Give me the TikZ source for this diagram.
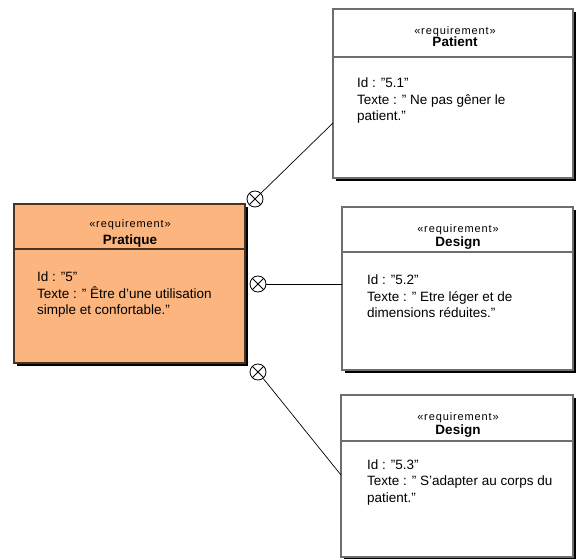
\documentclass[tikz,border=0pt]{standalone}
\usepackage{fontspec}
\setmainfont{Liberation Sans}
\newfontfamily\stereofont[LetterSpace=8]{Liberation Sans}
\usetikzlibrary{shadows}
\definecolor{reqorange}{HTML}{FCB57E}
\definecolor{reqbrown}{HTML}{4A3320}
\definecolor{reqgray}{HTML}{6E6E6E}
\begin{document}
\begin{tikzpicture}[x=1pt,y=-1pt,
  reqbox/.style={rectangle,inner sep=0,line width=1.1pt,
    drop shadow={shadow xshift=3pt,shadow yshift=-3pt,fill=black,opacity=1}},
  whitebox/.style={reqbox,draw=reqgray,fill=white},
  orangebox/.style={reqbox,draw=reqbrown,fill=reqorange},
  divider/.style={line width=1.4pt},
  stereo/.style={anchor=base,inner sep=0,font=\stereofont\fontsize{11}{13}\selectfont},
  reqname/.style={anchor=base,inner sep=0,font=\bfseries\fontsize{13.5}{15}\selectfont},
  body/.style={anchor=base west,inner sep=0,font=\fontsize{13.5}{16}\selectfont},
  satisfy/.style={circle,draw,line width=0.8pt,minimum size=16pt,inner sep=0,fill=white},
  link/.style={line width=0.7pt}]
\useasboundingbox (0,0) rectangle (576,559);

% requirement boxes
\node[orangebox,minimum width=231pt,minimum height=159pt] (pratique) at (129.5,283.5) {};
\node[whitebox,minimum width=240pt,minimum height=169pt] (patient) at (453,93.5) {};
\node[whitebox,minimum width=231pt,minimum height=163pt] (design1) at (457.5,288.5) {};
\node[whitebox,minimum width=232pt,minimum height=162pt] (design2) at (457,476) {};

% header dividers
\draw[divider,draw=reqbrown] (pratique.west |- 0,249) -- (pratique.east |- 0,249);
\draw[divider,draw=reqgray] (patient.west |- 0,57) -- (patient.east |- 0,57);
\draw[divider,draw=reqgray] (design1.west |- 0,252) -- (design1.east |- 0,252);
\draw[divider,draw=reqgray] (design2.west |- 0,441) -- (design2.east |- 0,441);

% headers
\node[stereo] (pratiqueS) at (130,227) {«requirement»};
\node[reqname] (pratiqueN) at (130,244.5) {Pratique};
\node[stereo] (patientS) at (455,34.5) {«requirement»};
\node[reqname] (patientN) at (455,47) {Patient};
\node[stereo] (design1S) at (458,233) {«requirement»};
\node[reqname] (design1N) at (458,246) {Design};
\node[stereo] (design2S) at (458,420) {«requirement»};
\node[reqname] (design2N) at (458,434) {Design};

% bodies
\node[body] (pratiqueA) at (37,281.5) {Id : "5"};
\node[body] (pratiqueB) at (37,298) {Texte : " Être d’une utilisation};
\node[body] (pratiqueC) at (37,314.5) {simple et confortable."};

\node[body] (patientA) at (357,88) {Id : "5.1"};
\node[body] (patientB) at (357,104.5) {Texte : " Ne pas gêner le};
\node[body] (patientC) at (357,121) {patient."};

\node[body] (design1A) at (367,284.5) {Id : "5.2"};
\node[body] (design1B) at (367,301) {Texte : " Etre léger et de};
\node[body] (design1C) at (367,317.5) {dimensions réduites."};

\node[body] (design2A) at (367,469) {Id : "5.3"};
\node[body] (design2B) at (367,485.5) {Texte : " S’adapter au corps du};
\node[body] (design2C) at (367,502) {patient."};

% containment connectors
\node[satisfy] (c1) at (255,199) {};
\node[satisfy] (c2) at (258,284) {};
\node[satisfy] (c3) at (258,372) {};
\foreach \c in {c1,c2,c3}{
  \draw[line width=0.8pt] (\c.north west) -- (\c.south east);
  \draw[line width=0.8pt] (\c.north east) -- (\c.south west);
}
\coordinate (e1) at (333,123);
\coordinate (e2) at (342,284);
\coordinate (e3) at (341,475);
\draw[link] (c1) -- (e1);
\draw[link] (c2) -- (e2);
\draw[link] (c3) -- (e3);
\end{tikzpicture}
\end{document}
